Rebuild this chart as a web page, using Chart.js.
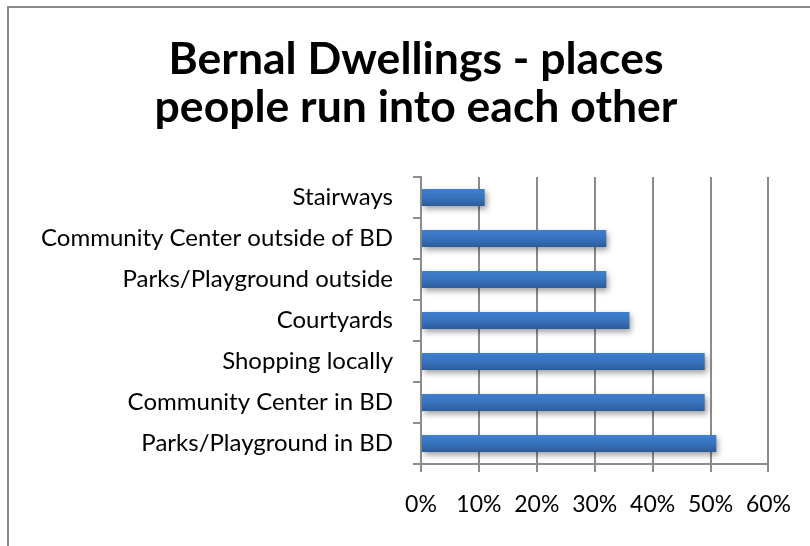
<!DOCTYPE html>
<html lang="en">
<head>
    <meta charset="UTF-8">
    <title>Bernal Dwellings</title>
    <script src="https://cdn.jsdelivr.net/npm/chart.js@4/dist/chart.umd.min.js"></script>
    <style>
        body { margin: 0; background: #fff; }
        #wrap { width: 810px; height: 546px; }
    </style>
</head>
<body>
    <div id="wrap"><canvas id="myChart" width="810" height="546"></canvas></div>
    <script>
        const titleLines = ['Bernal Dwellings - places', 'people run into each other'];
        const places = [
            'Stairways',
            'Community Center outside of BD',
            'Parks/Playground outside',
            'Courtyards',
            'Shopping locally',
            'Community Center in BD',
            'Parks/Playground in BD'
        ];
        const shares = [11, 32, 32, 36, 49, 49, 51];
        const xTicks = [0, 10, 20, 30, 40, 50, 60];

        const FONT = 'Lato, "Open Sans", sans-serif';
        const GRID = '#8c8c8c';

        // blue bars, lighter on top, darker underneath
        function barFill(context) {
            const chart = context.chart;
            if (!chart.chartArea || !chart.scales.y) return '#3a75c0';
            const y = chart.scales.y.getPixelForValue(context.dataIndex);
            const g = chart.ctx.createLinearGradient(0, y - 9, 0, y + 9);
            g.addColorStop(0, '#3f80d0');
            g.addColorStop(0.5, '#3873bd');
            g.addColorStop(1, '#2c5a98');
            return g;
        }

        // soft drop shadow under the bars
        const barShadow = {
            id: 'barShadow',
            beforeDatasetsDraw(chart) {
                const ctx = chart.ctx;
                ctx.save();
                ctx.shadowColor = 'rgba(0,0,0,0.38)';
                ctx.shadowBlur = 6;
                ctx.shadowOffsetX = 2;
                ctx.shadowOffsetY = 3;
            },
            afterDatasetsDraw(chart) {
                chart.ctx.restore();
            }
        };

        // frame and the two-line heading, centred over the whole chart box
        const frameAndTitle = {
            id: 'frameAndTitle',
            afterDraw(chart) {
                const ctx = chart.ctx;
                ctx.save();
                ctx.strokeStyle = '#8a8a8a';
                ctx.lineWidth = 2;
                ctx.strokeRect(8, 7, 1200, 1200);

                ctx.fillStyle = '#000';
                ctx.font = 'bold 44.5px ' + FONT;
                ctx.textAlign = 'center';
                ctx.textBaseline = 'alphabetic';
                ctx.fillText(titleLines[0], 416, 73.5);
                ctx.fillText(titleLines[1], 416, 122);
                ctx.restore();
            }
        };

        const ctx = document.getElementById('myChart').getContext('2d');

        new Chart(ctx, {
            type: 'bar',
            data: {
                labels: places,
                datasets: [{
                    data: shares,
                    backgroundColor: barFill,
                    borderWidth: 0,
                    barPercentage: 0.42,
                    categoryPercentage: 1
                }]
            },
            options: {
                indexAxis: 'y',
                responsive: false,
                animation: false,
                events: [],
                layout: {
                    padding: { top: 177, left: 0, right: 40, bottom: 0 }
                },
                plugins: {
                    legend: { display: false },
                    tooltip: { enabled: false },
                    title: { display: false }
                },
                scales: {
                    x: {
                        min: 0,
                        max: 60,
                        afterBuildTicks(scale) {
                            scale.ticks = xTicks.map(v => ({ value: v }));
                        },
                        afterFit(scale) {
                            scale.height = 82;
                        },
                        ticks: {
                            color: '#000',
                            font: { family: FONT, size: 23 },
                            padding: 19,
                            callback: v => v + '%'
                        },
                        grid: {
                            color: GRID,
                            lineWidth: 2,
                            tickLength: 8
                        },
                        border: { color: GRID, width: 2 }
                    },
                    y: {
                        afterFit(scale) {
                            scale.width = 421;
                        },
                        ticks: {
                            color: '#000',
                            font: { family: FONT, size: 24 },
                            padding: 20
                        },
                        grid: {
                            color: GRID,
                            lineWidth: 2,
                            drawOnChartArea: false,
                            tickLength: 8
                        },
                        border: { color: GRID, width: 2 }
                    }
                }
            },
            plugins: [barShadow, frameAndTitle]
        });
    </script>
</body>
</html>
